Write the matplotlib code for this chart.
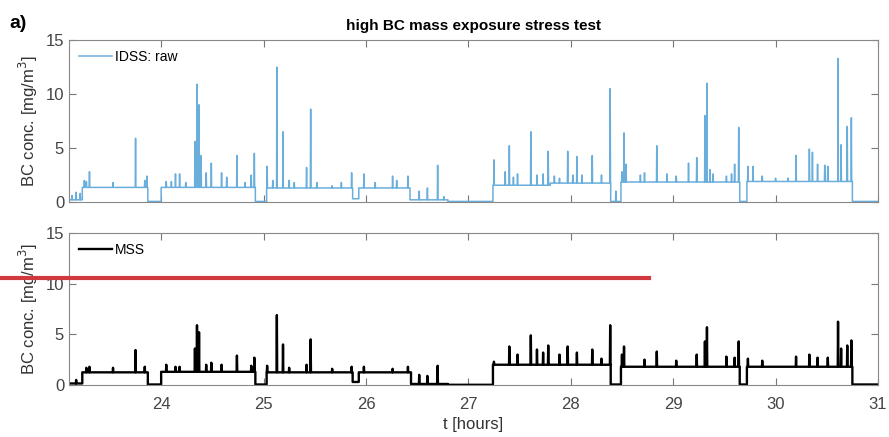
import matplotlib.pyplot as plt
import numpy as np

plt.rcParams['font.family'] = ['Liberation Sans', 'DejaVu Sans']

# --- IDSS raw: baseline segments (start time, level) and spikes (time, height)
idss_seg_t = [23.10, 23.23, 23.87, 24.00, 24.92, 25.03, 25.87, 25.93, 26.43, 26.80,
              27.24, 27.80, 28.39, 28.49, 29.65, 29.72, 30.75, 31.00]
idss_seg_y = [0.20, 1.35, 0.05, 1.35, 0.05, 1.30, 0.30, 1.30, 0.20, 0.05,
              1.55, 1.75, 0.05, 1.85, 0.05, 1.90, 0.05, 0.05]
idss_spk_t = [23.13, 23.17, 23.21, 23.25, 23.27, 23.30, 23.53, 23.75, 23.84, 23.86,
              24.05, 24.10, 24.14, 24.18, 24.24, 24.33, 24.35, 24.37, 24.39, 24.44,
              24.49, 24.59, 24.64, 24.74, 24.82, 24.88, 24.91, 25.035, 25.09, 25.13,
              25.19, 25.25, 25.30, 25.42, 25.46, 25.52, 25.67, 25.76, 25.86, 25.98,
              26.09, 26.26, 26.30, 26.41, 26.52, 26.60, 26.70, 26.76,
              27.25, 27.36, 27.40, 27.44, 27.48, 27.61, 27.67, 27.73, 27.78, 27.84,
              27.89, 27.97, 28.02, 28.06, 28.11, 28.21, 28.30, 28.385, 28.44,
              28.50, 28.52, 28.54, 28.68, 28.72, 28.84, 28.94, 29.03, 29.15, 29.23,
              29.31, 29.33, 29.36, 29.39, 29.52, 29.57, 29.60, 29.64,
              29.73, 29.78, 29.87, 30.00, 30.12, 30.20, 30.33, 30.36, 30.41, 30.48,
              30.51, 30.61, 30.64, 30.70, 30.74]
idss_spk_h = [0.6, 0.9, 0.8, 2.0, 1.9, 2.8, 1.8, 5.9, 2.0, 2.4,
              1.9, 1.9, 2.6, 2.6, 1.8, 5.6, 10.9, 9.0, 4.3, 2.7,
              3.6, 2.7, 2.3, 4.3, 1.8, 2.5, 4.5, 3.3, 2.0, 12.5,
              6.5, 2.0, 1.8, 3.2, 8.6, 1.8, 1.5, 1.8, 2.7, 2.6,
              1.8, 2.4, 2.0, 2.4, 1.0, 1.3, 3.4, 0.5,
              3.9, 2.8, 5.2, 2.3, 2.6, 6.5, 2.5, 2.6, 4.7, 2.4,
              2.2, 4.7, 2.5, 4.2, 2.5, 4.3, 2.5, 10.5, 1.0,
              2.8, 6.4, 3.5, 2.5, 2.7, 5.2, 2.6, 2.4, 3.6, 4.1,
              8.0, 11.0, 3.0, 2.6, 2.4, 2.6, 3.5, 6.9,
              3.3, 3.3, 2.4, 2.2, 2.2, 4.3, 4.9, 4.6, 3.5, 3.4,
              3.3, 13.3, 5.3, 7.0, 7.8]

# --- MSS
mss_seg_t = [23.10, 23.23, 23.87, 24.00, 24.92, 25.03, 25.87, 25.93, 26.44, 26.80,
             27.24, 28.39, 28.49, 29.65, 29.72, 30.75, 31.00]
mss_seg_y = [0.15, 1.25, 0.05, 1.30, 0.05, 1.25, 0.30, 1.25, 0.10, 0.02,
             2.00, 0.05, 1.80, 0.05, 1.80, 0.05, 0.05]
mss_spk_t = [23.17, 23.27, 23.30, 23.53, 23.75, 23.84, 24.05, 24.14, 24.18, 24.33,
             24.35, 24.37, 24.44, 24.49, 24.59, 24.74, 24.88, 24.91, 25.035, 25.13,
             25.19, 25.25, 25.42, 25.46, 25.67, 25.86, 25.98, 26.26, 26.41, 26.52,
             26.60, 26.70, 27.25, 27.40, 27.48, 27.61, 27.67, 27.73, 27.78, 27.89,
             27.97, 28.06, 28.21, 28.30, 28.385, 28.50, 28.52, 28.72, 28.84, 29.03,
             29.23, 29.31, 29.33, 29.52, 29.60, 29.64, 29.73, 29.87, 30.20, 30.33,
             30.41, 30.51, 30.61, 30.64, 30.70, 30.74]
mss_spk_h = [0.5, 1.7, 1.8, 1.7, 3.45, 1.8, 2.0, 1.8, 1.8, 3.6,
             5.9, 5.2, 2.0, 2.2, 2.0, 2.9, 1.9, 2.7, 1.9, 6.9,
             4.0, 1.7, 2.0, 4.5, 1.6, 1.8, 1.8, 1.6, 1.8, 1.0,
             0.9, 1.9, 2.3, 3.8, 3.0, 4.9, 3.5, 3.2, 3.9, 3.0,
             3.8, 3.2, 3.5, 2.6, 5.9, 3.0, 3.8, 2.5, 3.3, 2.4,
             3.0, 4.3, 5.7, 2.8, 2.7, 4.3, 2.6, 2.4, 2.8, 3.0,
             2.7, 2.7, 6.25, 3.6, 3.9, 4.4]


def build(seg_t, seg_y, spk_t, spk_h, w=0.003):
    # step baseline with narrow spikes on top, walked in time order
    ts, ys = [], []
    spikes = sorted(zip(spk_t, spk_h))
    k = 0
    for i in range(len(seg_t) - 1):
        a, b, lvl = seg_t[i], seg_t[i + 1], seg_y[i]
        ts.append(a)
        ys.append(lvl)
        while k < len(spikes) and spikes[k][0] < b:
            t, h = spikes[k]
            ts += [max(t - w, a), t, min(t + w, b)]
            ys += [lvl, h, lvl]
            k += 1
        ts.append(b)
        ys.append(lvl)
    return ts, ys


fig = plt.figure(figsize=(8.89, 4.37), dpi=100)
ax1 = fig.add_axes([0.0776, 0.5378, 0.91, 0.3707])
ax2 = fig.add_axes([0.0776, 0.119, 0.91, 0.3478])

x1, y1 = build(idss_seg_t, idss_seg_y, idss_spk_t, idss_spk_h)
ax1.plot(x1, y1, color='#6aaedc', lw=1.1, label='IDSS: raw')
x2, y2 = build(mss_seg_t, mss_seg_y, mss_spk_t, mss_spk_h)
ax2.plot(x2, y2, color='black', lw=1.7, label='MSS')

for ax in (ax1, ax2):
    ax.set_xlim(23.1, 31)
    ax.set_ylim(0, 15)
    ax.set_yticks([0, 5, 10, 15])
    ax.set_xticks(range(24, 32))
    ax.tick_params(direction='in', top=True, right=True, length=5, width=0.8,
                   color='#777777', labelcolor='#444444', labelsize=12)
    ax.tick_params(axis='x', pad=9)
    for s in ax.spines.values():
        s.set_color('#888888')
        s.set_linewidth(0.8)
    ax.set_ylabel('BC conc. [mg/m$^3$]', fontsize=12, color='#333333', labelpad=4)
    ax.legend(loc='upper left', frameon=False, fontsize=10, handlelength=2.4,
              handletextpad=0.2, borderaxespad=0.3)

ax1.tick_params(labelbottom=False)
ax2.set_xlabel('t [hours]', fontsize=12, color='#333333', labelpad=3)
ax1.set_title('high BC mass exposure stress test', fontsize=11, fontweight='bold', pad=7)
fig.text(0.011, 0.935, 'a)', fontsize=14, fontweight='bold')

# red overlay mark
fig.add_artist(plt.Line2D([0, 0.730], [0.3638, 0.3638], color='#d0393e', lw=3.0,
                          transform=fig.transFigure))

fig.savefig('out.png', dpi=100)
